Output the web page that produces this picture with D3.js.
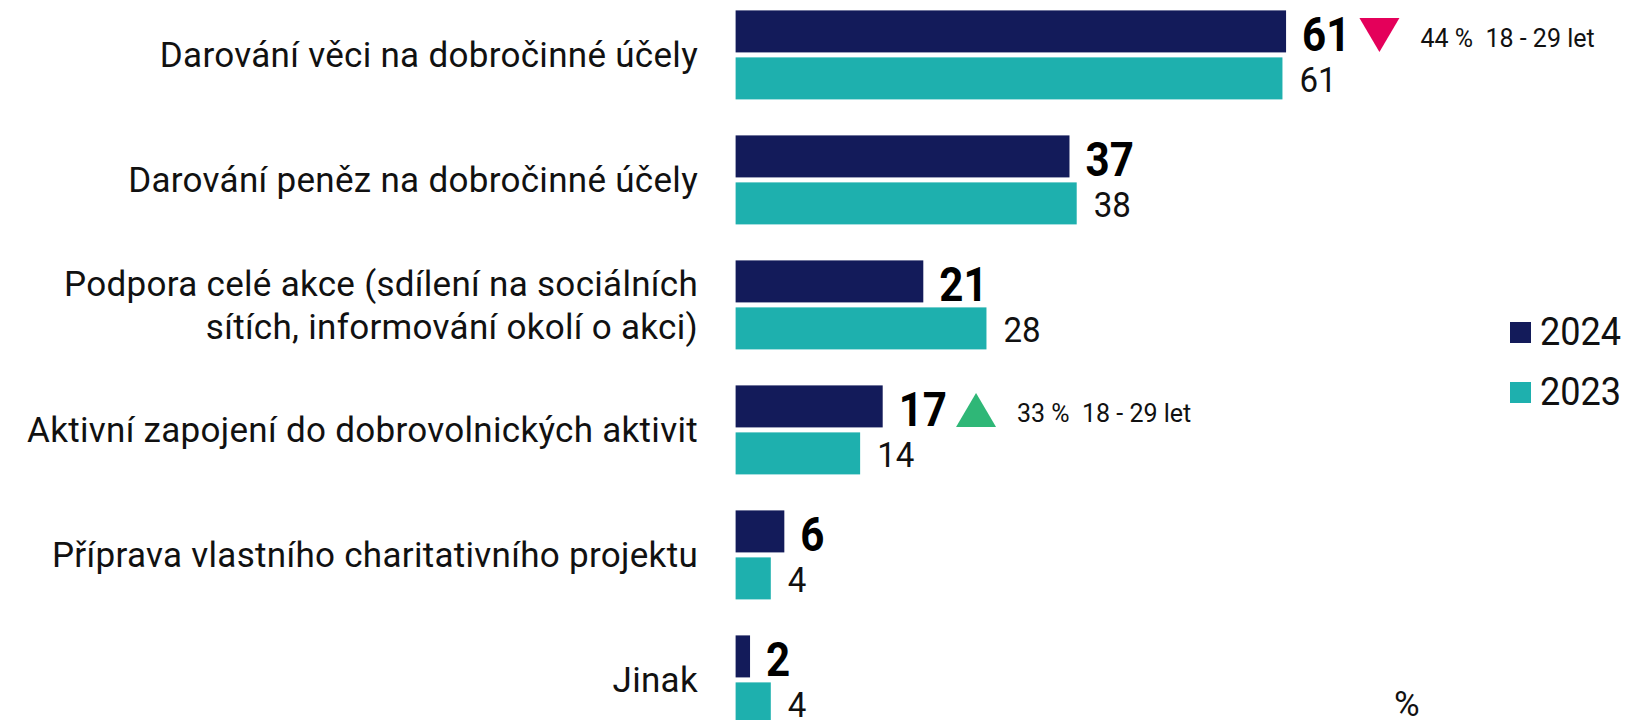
<!DOCTYPE html>
<html>
<head>
<meta charset="utf-8">
<script src="https://cdn.jsdelivr.net/npm/d3@7"></script>
<style>
	body { margin: 0; background: #fff; }
	svg { display: block; font-family: Roboto, "Noto Sans", sans-serif; }
	text { white-space: pre; }
</style>
</head>
<body>
<div id="chart"></div>
<script>

const categories = [
	"Darování věci na dobročinné účely",
	"Darování peněz na dobročinné účely",
	"Podpora celé akce (sdílení na sociálních\nsítích, informování okolí o akci)",
	"Aktivní zapojení do dobrovolnických aktivit",
	"Příprava vlastního charitativního projektu",
	"Jinak"
];
const years = ["2024", "2023"];
// bar lengths
const values2024 = [61.0, 37.0, 20.8, 16.3, 5.4, 1.6];
const values2023 = [60.6, 37.8, 27.8, 13.8, 3.9, 3.9];
// printed labels
const labels2024 = ["61", "37", "21", "17", "6", "2"];
const labels2023 = ["61", "38", "28", "14", "4", "4"];
const noteRows = [0, 3];
const noteDirs = ["down", "up"];
const noteTexts = ["44 %  18 - 29 let", "33 %  18 - 29 let"];
const unitLabel = "%";

const w = 1627;
const h = 720;
const colors = { "2024": "#131b5a", "2023": "#1eb0ae" };

const svg = d3.select("#chart")
	.append("svg")
	.attr("width", w)
	.attr("height", h);

// Scales
const xScale = d3.scaleLinear()
	.domain([0, 100])
	.range([735.6, 1638]);

const yGroup = d3.scaleBand()
	.domain(d3.range(categories.length))
	.range([10.4, 10.4 + 125 * categories.length]);

const yYear = d3.scaleBand()
	.domain(years)
	.range([0, 89])
	.paddingInner(0.106);

const bh = yYear.bandwidth();

const rows = categories.map((c, i) => ({
	i: i,
	label: c,
	"2024": values2024[i],
	"2023": values2023[i],
	t2024: labels2024[i],
	t2023: labels2023[i]
}));

// Bars
const groups = svg.selectAll("g.row")
	.data(rows)
	.enter()
	.append("g")
	.attr("class", "row")
	.attr("transform", d => `translate(0, ${yGroup(d.i)})`);

groups.selectAll("rect")
	.data(d => years.map(y => ({ year: y, value: d[y] })))
	.enter()
	.append("rect")
	.attr("x", xScale(0))
	.attr("y", d => yYear(d.year))
	.attr("width", d => xScale(d.value) - xScale(0))
	.attr("height", bh)
	.attr("fill", d => colors[d.year]);

// Category labels
groups.append("text")
	.attr("text-anchor", "end")
	.attr("font-size", 35)
	.attr("letter-spacing", 0.3)
	.attr("fill", "#111")
	.each(function (d) {
		const lines = d.label.split("\n");
		const mid = 44.5 + 12.5;
		lines.forEach((l, k) => {
			d3.select(this).append("tspan")
				.attr("x", 698)
				.attr("y", mid + (k - (lines.length - 1) / 2) * 43.6)
				.text(l);
		});
	});

// Value labels
const sxBold = 0.86;
const sxReg = 0.92;
const bold = groups.append("text")
	.attr("font-size", 49)
	.attr("font-weight", 700)
	.attr("fill", "#000")
	.attr("transform", d => `translate(${xScale(d["2024"]) + 16}, ${yYear("2024") + bh / 2 + 20}) scale(${sxBold},1)`)
	.text(d => d.t2024);

groups.append("text")
	.attr("font-size", 36)
	.attr("fill", "#111")
	.attr("transform", d => `translate(${xScale(d["2023"]) + 17}, ${yYear("2023") + bh / 2 + 13.7}) scale(${sxReg},1)`)
	.text(d => d.t2023);

// Notes
noteRows.forEach((r, k) => {
	const labelW = bold.nodes()[r].getComputedTextLength() * sxBold;
	const x0 = xScale(values2024[r]) + 16 + labelW + 9;
	const cy = yGroup(r) + yYear("2024") + bh / 2 + 3.5;
	const tw = 40, th = 34;
	const pts = noteDirs[k] === "down"
		? [[x0, cy - th / 2], [x0 + tw, cy - th / 2], [x0 + tw / 2, cy + th / 2]]
		: [[x0 + tw / 2, cy - th / 2], [x0 + tw, cy + th / 2], [x0, cy + th / 2]];
	svg.append("path")
		.attr("d", d3.line()(pts) + "Z")
		.attr("fill", noteDirs[k] === "down" ? "#e4005a" : "#2fb777");
	svg.append("text")
		.attr("x", x0 + tw + 21)
		.attr("y", yGroup(r) + yYear("2024") + bh / 2 + 15.5)
		.attr("font-size", 25)
		.attr("fill", "#111")
		.text(noteTexts[k]);
});

// Legend
const legend = svg.append("g")
	.attr("transform", "translate(1510, 322)");

legend.selectAll("rect")
	.data(years)
	.enter()
	.append("rect")
	.attr("x", 0)
	.attr("y", (d, i) => i * 60)
	.attr("width", 21)
	.attr("height", 21)
	.attr("fill", d => colors[d]);

legend.selectAll("text")
	.data(years)
	.enter()
	.append("text")
	.attr("transform", (d, i) => `translate(30, ${i * 60 + 23}) scale(0.95,1)`)
	.attr("font-size", 38)
	.attr("fill", "#111")
	.text(d => d);

svg.append("text")
	.attr("x", 1394)
	.attr("y", 716)
	.attr("font-size", 35)
	.attr("fill", "#111")
	.text(unitLabel);

</script>
</body>
</html>
